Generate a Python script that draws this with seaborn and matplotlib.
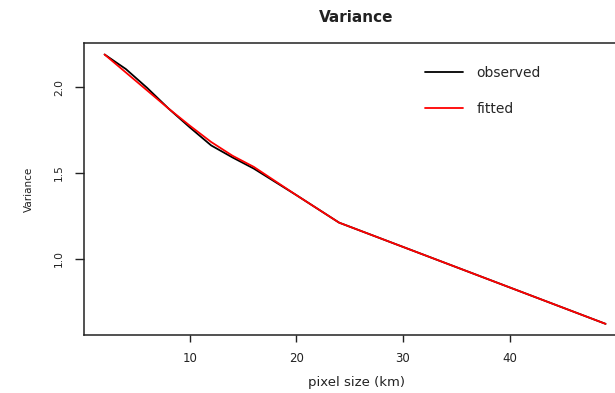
import matplotlib
matplotlib.use("Agg")
import matplotlib.pyplot as plt
import seaborn as sns
import pandas as pd
from matplotlib.lines import Line2D

# Data
pixel_size = [2, 4, 6, 8, 10, 12, 14, 16, 20, 24, 49]
observed = [2.19, 2.105, 1.995, 1.875, 1.765, 1.66, 1.59, 1.525, 1.37, 1.21, 0.62]
fitted = [2.19, 2.085, 1.98, 1.875, 1.775, 1.68, 1.60, 1.535, 1.37, 1.21, 0.62]
series_names = ["observed", "fitted"]
series_colors = ["black", "red"]
x_ticks = [10, 20, 30, 40]
y_ticks = [1.0, 1.5, 2.0]

df = pd.concat([
    pd.DataFrame({"pixel size (km)": pixel_size, "Variance": observed, "series": series_names[0]}),
    pd.DataFrame({"pixel size (km)": pixel_size, "Variance": fitted, "series": series_names[1]}),
], ignore_index=True)

sns.set_theme(style="white")
plt.rcParams["font.family"] = ["DejaVu Sans"]

W, H = 615, 393
fig = plt.figure(figsize=(W / 100, H / 100), dpi=100)
left, right, top, bottom = 84, 629, 43, 335
ax = fig.add_axes([left / W, 1 - bottom / H, (right - left) / W, (bottom - top) / H])

sns.lineplot(data=df, x="pixel size (km)", y="Variance", hue="series",
             palette=dict(zip(series_names, series_colors)), linewidth=1.3,
             ax=ax, legend=False, sort=False)

ax.set_xlim(0.07, 51.2)
ax.set_ylim(0.555, 2.257)
ax.set_xticks(x_ticks)
ax.set_xticklabels([str(t) for t in x_ticks], fontsize=8.5, color="#222222")
ax.set_yticks(y_ticks)
ax.set_yticklabels([f"{t:.1f}" for t in y_ticks], fontsize=7.7, rotation=90,
                   va="center", color="#222222")
ax.tick_params(axis="x", length=5, width=1, pad=7, direction="out", bottom=True, color="#222222")
ax.tick_params(axis="y", length=6.5, width=1, pad=8, direction="out", left=True, color="#222222")
for s in ax.spines.values():
    s.set_color("#222222")
    s.set_linewidth(1.1)

ax.set_xlabel("pixel size (km)", fontsize=9.5, labelpad=8.4, color="#222222")
ax.set_ylabel("Variance", fontsize=7.5, labelpad=14, color="#222222")
fig.text(356 / W, 1 - 18 / H, "Variance", fontsize=11, fontweight="bold",
         ha="center", va="center", color="#222222")

handles = [Line2D([], [], color=c, lw=1.3) for c in series_colors]
ax.legend(handles, series_names, loc="upper left", frameon=False,
          bbox_to_anchor=(425 / W, 1 - 66 / H), bbox_transform=fig.transFigure,
          fontsize=10, handlelength=2.7, handletextpad=1.0, labelspacing=1.6,
          borderpad=0, borderaxespad=0)

fig.savefig("out.png", dpi=100)
